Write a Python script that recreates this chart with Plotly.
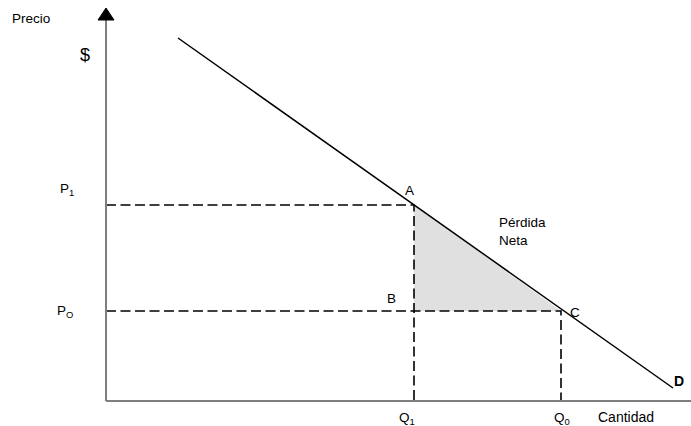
import plotly.graph_objects as go

# Data (economic units: quantity on x, price on y)
demand_q = [72, 567]
demand_p = [363, 13]
Q1, Q0 = 308, 455
P1, P0 = 196, 90
axis_top = 381
axis_right = 585

FONT = "Liberation Sans, Arial, sans-serif"

fig = go.Figure()

# Deadweight loss triangle
fig.add_trace(go.Scatter(x=[Q1, Q1, Q0, Q1], y=[P1, P0, P0, P1], mode="lines",
                         fill="toself", fillcolor="#e0e0e0", line=dict(width=0),
                         hoverinfo="skip", showlegend=False))

# Dashed guides
dash = dict(color="black", width=1.6, dash="10px,4.5px")
fig.add_trace(go.Scatter(x=[0, Q1, Q1], y=[P1, P1, 0], mode="lines", line=dash, showlegend=False))
fig.add_trace(go.Scatter(x=[0, Q0, Q0], y=[P0, P0, 0], mode="lines", line=dash, showlegend=False))

# Demand curve
fig.add_trace(go.Scatter(x=demand_q, y=demand_p, mode="lines",
                         line=dict(color="black", width=1.5), showlegend=False))

# Axes
fig.add_shape(type="line", x0=0, y0=0, x1=0, y1=axis_top, line=dict(color="#7f7f7f", width=2))
fig.add_shape(type="line", x0=0, y0=0, x1=axis_right, y1=0, line=dict(color="#7f7f7f", width=2))
fig.add_shape(type="path", path=f"M -8 {axis_top} L 8 {axis_top} L 0 {axis_top + 12} Z",
              fillcolor="black", line=dict(color="black", width=1))

def label(x, y, text, size=13.5, xanchor="center", yanchor="middle", align="center"):
    fig.add_annotation(x=x, y=y, text=text, showarrow=False, xanchor=xanchor, yanchor=yanchor,
                       align=align, font=dict(family=FONT, size=size, color="black"))

label(-96, 383, "Precio", xanchor="left")
label(-21, 346, "$", size=18)
label(-39, 212, "P<sub>1</sub>")
label(-41, 90, "P<sub>O</sub>")
label(303, 211, "A")
label(285, 103, "B")
label(469, 89, "C")
label(391, 170, "Pérdida<br>Neta", xanchor="left", align="left")
label(301, -17, "Q<sub>1</sub>")
label(456, -17, "Q<sub>0</sub>")
label(490, -16, "Cantidad", xanchor="left", size=14)
label(573, 20, "<b>D</b>", size=14)

fig.update_layout(
    width=691, height=426,
    margin=dict(l=0, r=0, t=0, b=0),
    paper_bgcolor="white", plot_bgcolor="white",
    xaxis=dict(range=[-106, 585], visible=False, fixedrange=True),
    yaxis=dict(range=[-25, 401], visible=False, fixedrange=True),
)

fig.write_html("out.html", config={"displayModeBar": False},
               post_script="document.body.style.margin='0';document.body.style.overflow='hidden';")
